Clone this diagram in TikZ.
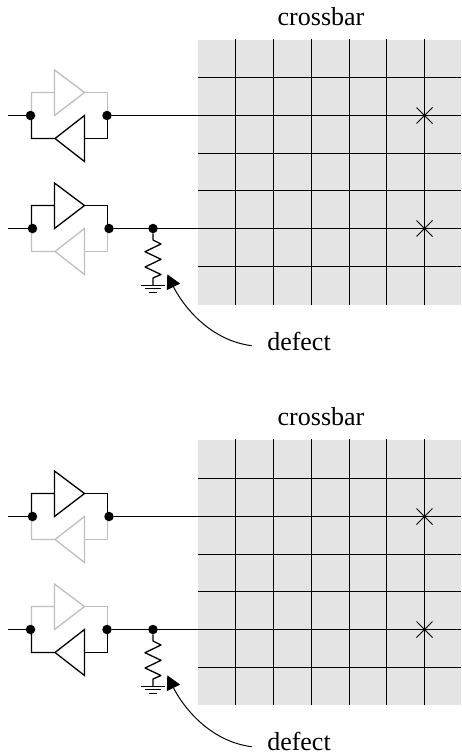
\documentclass[tikz,border=0pt]{standalone}
\usepackage{fontspec}
\setmainfont{Liberation Serif}
\usetikzlibrary{arrows.meta}
\definecolor{panelgray}{HTML}{E4E4E4}
\definecolor{offgray}{HTML}{BEBEBE}
\tikzset{
  wire/.style={line width=1.3pt},
  junction/.style={circle,fill=black,inner sep=0pt,minimum size=9.5pt},
  label/.style={font=\fontsize{26}{26}\selectfont,inner sep=0pt},
}
% wire height, colour of upper amp, colour of lower amp, x of left dot
\newcommand{\ampblock}[4]{
\begin{scope}[shift={(0,#1)}]
\coordinate (stub) at (8,0);
\coordinate (bar) at (198,0);
\draw[wire,#2](31.5,0)|-(54.5,-23) (54.5,-45.5)--(54.5,0)--(84.5,-23)--cycle;
\draw[wire,#2](84.5,-23)-|(107.5,0);
\draw[wire,#3](31.5,0)|-(55,23) (55,23)--(84.5,0)--(84.5,46)--cycle;
\draw[wire,#3](84.5,23)-|(107.5,0);
\node[junction] (left) at (#4,0) {};
\node[junction] (right) at (#4+76.5,0) {};
\draw[wire](stub)--(left);
\draw[wire](right)--(bar);
\end{scope}
}
\begin{document}
\begin{tikzpicture}[x=1pt,y=-1pt]
\useasboundingbox (0,0) rectangle (461,752);
\foreach \dy/\first/\second/\xa/\xb/\rt/\ty in {0/offgray/black/30.5/32.5/40/341.5, 401/black/offgray/32.5/30.5/39/340.5}{
\begin{scope}[shift={(0,\dy)}]
\fill[panelgray](198,\rt) rectangle (461,\rt+265);
\foreach \gx in {235.5,273.5,311.5,349.5,386.5,424.5}{
  \draw[wire](\gx,\rt-1)--(\gx,\rt+265);
}
\foreach \gy in {77.5,115.5,153.5,190.5,228.5,266.5}{
  \draw[wire](198,\gy)--(461,\gy);
}
\node[label] (title) at (321,\rt-23) {crossbar};
\foreach \wy in {115.5,228.5}{
  \draw[line width=1pt](416.5,\wy-8)--(432.5,\wy+8) (416.5,\wy+8)--(432.5,\wy-8);
}
\end{scope}
\pgfmathsetmacro{\wa}{\dy+115.5}
\pgfmathsetmacro{\wb}{\dy+228.5}
\ampblock{\wa}{\first}{\second}{\xa}
\ampblock{\wb}{\second}{\first}{\xb}
\begin{scope}[shift={(0,\dy)}]
\node[junction] (tap) at (153,228.5) {};
\coordinate (earth) at (153,285.5);
\draw[wire,line join=round](tap)--(153,240)--(161,244)--(145,251.7)--(161,259.3)--(145,267)--(161,274.5)--(153,278)--(earth);
\draw[wire](141,285.5)--(165,285.5) (145,288.5)--(161,288.5) (149,292.5)--(157,292.5);
\coordinate (arrowtip) at (167.3,274.3);
\coordinate (arrowstart) at (251.7,345.7);
\node[label] (defect) at (299,\ty) {defect};
\draw[-{Triangle[length=14pt,width=14.5pt]},line width=1pt](arrowstart)..controls (207,340) and (181,302)..(arrowtip);
\end{scope}
}
\end{tikzpicture}
\end{document}
